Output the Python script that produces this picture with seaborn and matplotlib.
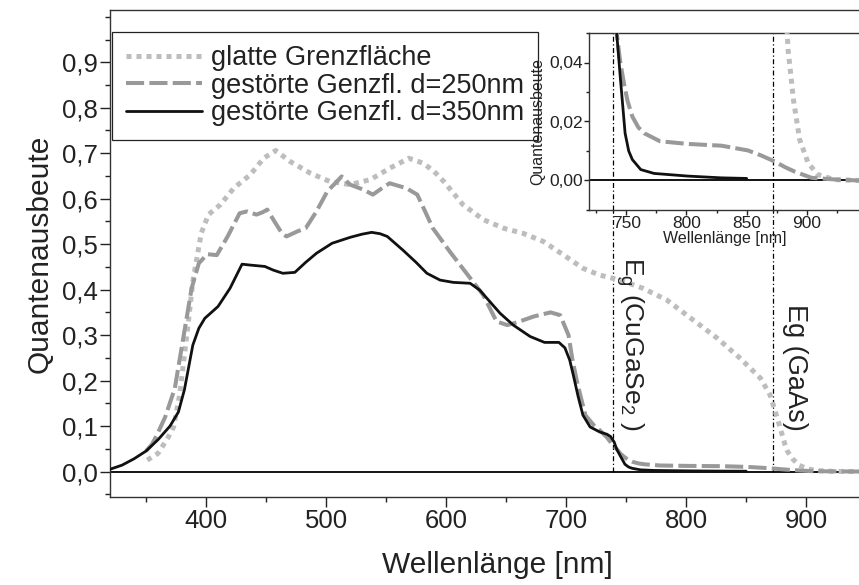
import numpy as np
import pandas as pd
import matplotlib
matplotlib.use("Agg")
import matplotlib.pyplot as plt
import seaborn as sns
from matplotlib.ticker import MultipleLocator, FuncFormatter, FixedLocator

# ---------------- data ----------------
labels = ["glatte Grenzfläche", "gestörte Genzfl. d=250nm", "gestörte Genzfl. d=350nm"]

wl_glatt = [351, 360, 368, 373, 378, 385, 389, 396, 402, 412, 423, 437, 448, 458, 470, 487,
            503, 520, 537, 553, 569, 581, 590, 598, 614, 631, 648, 664, 681, 698, 714, 728,
            745, 764, 784, 806, 826, 845, 862, 870, 876, 882.5, 884.5, 889, 894, 901, 909,
            923, 944]
qe_glatt = [0.025, 0.04, 0.073, 0.098, 0.168, 0.322, 0.418, 0.524, 0.565, 0.587, 0.623, 0.653,
            0.689, 0.706, 0.682, 0.656, 0.638, 0.631, 0.642, 0.667, 0.689, 0.678, 0.66, 0.638,
            0.587, 0.554, 0.535, 0.524, 0.506, 0.476, 0.447, 0.432, 0.421, 0.403, 0.377, 0.333,
            0.293, 0.249, 0.205, 0.168, 0.117, 0.058, 0.044, 0.027, 0.0139, 0.006, 0.002,
            0.0003, 0.0]

wl_250 = [350, 355, 359, 366, 374, 381, 388, 394, 401, 409, 418, 428, 434, 442, 447, 451, 457,
          463, 467, 476, 483, 492, 501, 508, 513, 520, 531, 539, 546, 553, 567, 576, 582, 589,
          603, 617, 631, 642, 651, 659, 673, 687, 695, 702, 705, 709, 716, 723, 728, 734, 739,
          742, 745, 748, 751, 755, 760, 765, 778, 801, 829, 851, 862, 873, 882, 890, 904, 925,
          944]
qe_250 = [0.045, 0.06, 0.08, 0.12, 0.183, 0.293, 0.403, 0.458, 0.478, 0.476, 0.517, 0.568,
          0.572, 0.565, 0.57, 0.576, 0.55, 0.525, 0.517, 0.528, 0.535, 0.572, 0.616, 0.635,
          0.649, 0.631, 0.62, 0.609, 0.622, 0.634, 0.623, 0.609, 0.575, 0.535, 0.484, 0.436,
          0.388, 0.33, 0.322, 0.328, 0.341, 0.35, 0.344, 0.30, 0.25, 0.198, 0.124, 0.102,
          0.091, 0.075, 0.058, 0.05, 0.04, 0.033, 0.027, 0.0217, 0.018, 0.016, 0.0133, 0.0124,
          0.0118, 0.0102, 0.0085, 0.0065, 0.0045, 0.003, 0.0009, 0.0003, 0.0]

wl_350 = [320, 330, 340, 350, 360, 370, 377, 382, 389, 394, 399, 410, 420, 430, 437, 449, 456,
          464, 474, 483, 492, 505, 520, 530, 538, 545, 551, 564, 575, 584, 595, 606, 620, 628,
          636, 645, 656, 670, 682, 694, 699, 703, 706, 710, 714, 720, 728, 734, 737, 740, 742,
          745, 749, 752, 755, 762, 773, 801, 829, 850]
qe_350 = [0.005, 0.014, 0.028, 0.045, 0.07, 0.10, 0.131, 0.18, 0.278, 0.315, 0.337, 0.363,
          0.403, 0.456, 0.454, 0.451, 0.443, 0.436, 0.438, 0.46, 0.48, 0.502, 0.515, 0.522,
          0.526, 0.523, 0.517, 0.487, 0.46, 0.436, 0.421, 0.416, 0.414, 0.399, 0.375, 0.348,
          0.322, 0.297, 0.284, 0.284, 0.272, 0.245, 0.212, 0.165, 0.124, 0.098, 0.087, 0.082,
          0.077, 0.065, 0.05, 0.035, 0.016, 0.01, 0.0071, 0.0037, 0.0024, 0.0015, 0.0009,
          0.0007]

eg_lines = [739, 872]
eg_labels = [r"E$_{g}$ (CuGaSe$_{2}$ )", "Eg (GaAs)"]
y_major_ticks = [0.0, 0.1, 0.2, 0.3, 0.4, 0.5, 0.6, 0.7, 0.8, 0.9]

# ---------------- style ----------------
sns.set_theme(style="ticks")
plt.rcParams["font.family"] = ["Liberation Sans", "DejaVu Sans"]
plt.rcParams["mathtext.default"] = "regular"
plt.rcParams["text.color"] = "#222222"
plt.rcParams["axes.labelcolor"] = "#222222"
plt.rcParams["xtick.color"] = "#222222"
plt.rcParams["ytick.color"] = "#222222"

c_dot, c_dash, c_solid = "#bdbdc0", "#999999", "#111111"

df_g = pd.DataFrame({"wl": wl_glatt, "qe": qe_glatt})
df_250 = pd.DataFrame({"wl": wl_250, "qe": qe_250})
df_350 = pd.DataFrame({"wl": wl_350, "qe": qe_350})

fig = plt.figure(figsize=(8.59, 5.85), dpi=100)
ax = fig.add_axes([110 / 859, 88 / 585, 749 / 859, 487 / 585])


def draw_curves(a, with_labels):
    a.axhline(0, color="black", lw=1.3, zorder=1)
    sns.lineplot(data=df_g, x="wl", y="qe", ax=a, color=c_dot, lw=3.6,
                 linestyle=(0, (1, 1)), sort=False, estimator=None,
                 label=labels[0] if with_labels else None, zorder=3)
    sns.lineplot(data=df_250, x="wl", y="qe", ax=a, color=c_dash, lw=2.9,
                 linestyle=(0, (4.5, 1.3)), sort=False, estimator=None,
                 label=labels[1] if with_labels else None, zorder=4)
    sns.lineplot(data=df_350, x="wl", y="qe", ax=a, color=c_solid, lw=2.0,
                 sort=False, estimator=None,
                 label=labels[2] if with_labels else None, zorder=5)


draw_curves(ax, True)
for x in eg_lines:
    ax.plot([x, x], [0, 0.95], color="black", lw=0.9, ls=(0, (4, 2, 1, 2)), zorder=2)

ax.set_xlim(320, 944)
ax.set_ylim(-0.056, 1.015)
ax.xaxis.set_major_locator(MultipleLocator(100))
ax.xaxis.set_minor_locator(MultipleLocator(50))
ax.yaxis.set_major_locator(FixedLocator(y_major_ticks))
ax.yaxis.set_minor_locator(MultipleLocator(0.05))
ax.yaxis.set_major_formatter(FuncFormatter(lambda v, p: f"{v:.1f}".replace(".", ",")))
ax.tick_params(which="major", direction="out", length=7, width=1, labelsize=18.5, pad=2)
ax.tick_params(which="minor", direction="out", length=3.6, width=1)
for s in ["left", "bottom", "top"]:
    ax.spines[s].set_color("#333333")
    ax.spines[s].set_linewidth(1.0)
ax.spines["right"].set_visible(False)
ax.set_xlabel("Wellenlänge [nm]", fontsize=21.5)
ax.xaxis.set_label_coords(0.517, -0.11)
ax.set_ylabel("Quantenausbeute", fontsize=21.5, labelpad=6)

ax.text(753, 0.09, eg_labels[0], rotation=270, ha="center", va="bottom", fontsize=19)
ax.text(891, 0.09, eg_labels[1], rotation=270, ha="center", va="bottom", fontsize=19.5)

leg = ax.legend(loc="upper left", bbox_to_anchor=(0.003, 0.955), borderaxespad=0,
                fontsize=19.5, handlelength=2.8, handletextpad=0.35, labelspacing=0.05,
                borderpad=0.5, frameon=True, fancybox=False)
leg.get_frame().set_edgecolor("#222222")
leg.get_frame().set_linewidth(0.9)
leg.get_frame().set_alpha(1)

# ---------------- inset ----------------
ax2 = fig.add_axes([589 / 859, 375 / 585, 272 / 859, 177 / 585])
ax2.set_facecolor("white")
draw_curves(ax2, False)
for x in eg_lines:
    ax2.axvline(x, color="black", lw=0.9, ls=(0, (4, 2, 1, 2)), zorder=2)
ax2.set_xlim(719, 945)
ax2.set_ylim(-0.01, 0.05)
ax2.xaxis.set_major_locator(MultipleLocator(50))
ax2.xaxis.set_minor_locator(MultipleLocator(25))
ax2.yaxis.set_major_locator(MultipleLocator(0.02))
ax2.yaxis.set_minor_locator(MultipleLocator(0.01))
ax2.yaxis.set_major_formatter(FuncFormatter(lambda v, p: f"{v:.2f}".replace(".", ",")))
ax2.tick_params(which="major", direction="out", length=3.5, width=1, labelsize=12.5, pad=1)
ax2.tick_params(which="minor", direction="out", length=2, width=1)
for s in ["left", "bottom", "top"]:
    ax2.spines[s].set_color("#333333")
    ax2.spines[s].set_linewidth(1.0)
ax2.spines["right"].set_visible(False)
ax2.set_xlabel("Wellenlänge [nm]", fontsize=11.5, labelpad=0)
ax2.set_ylabel("Quantenausbeute", fontsize=11.5, labelpad=3)

fig.savefig("out.png", dpi=100)
